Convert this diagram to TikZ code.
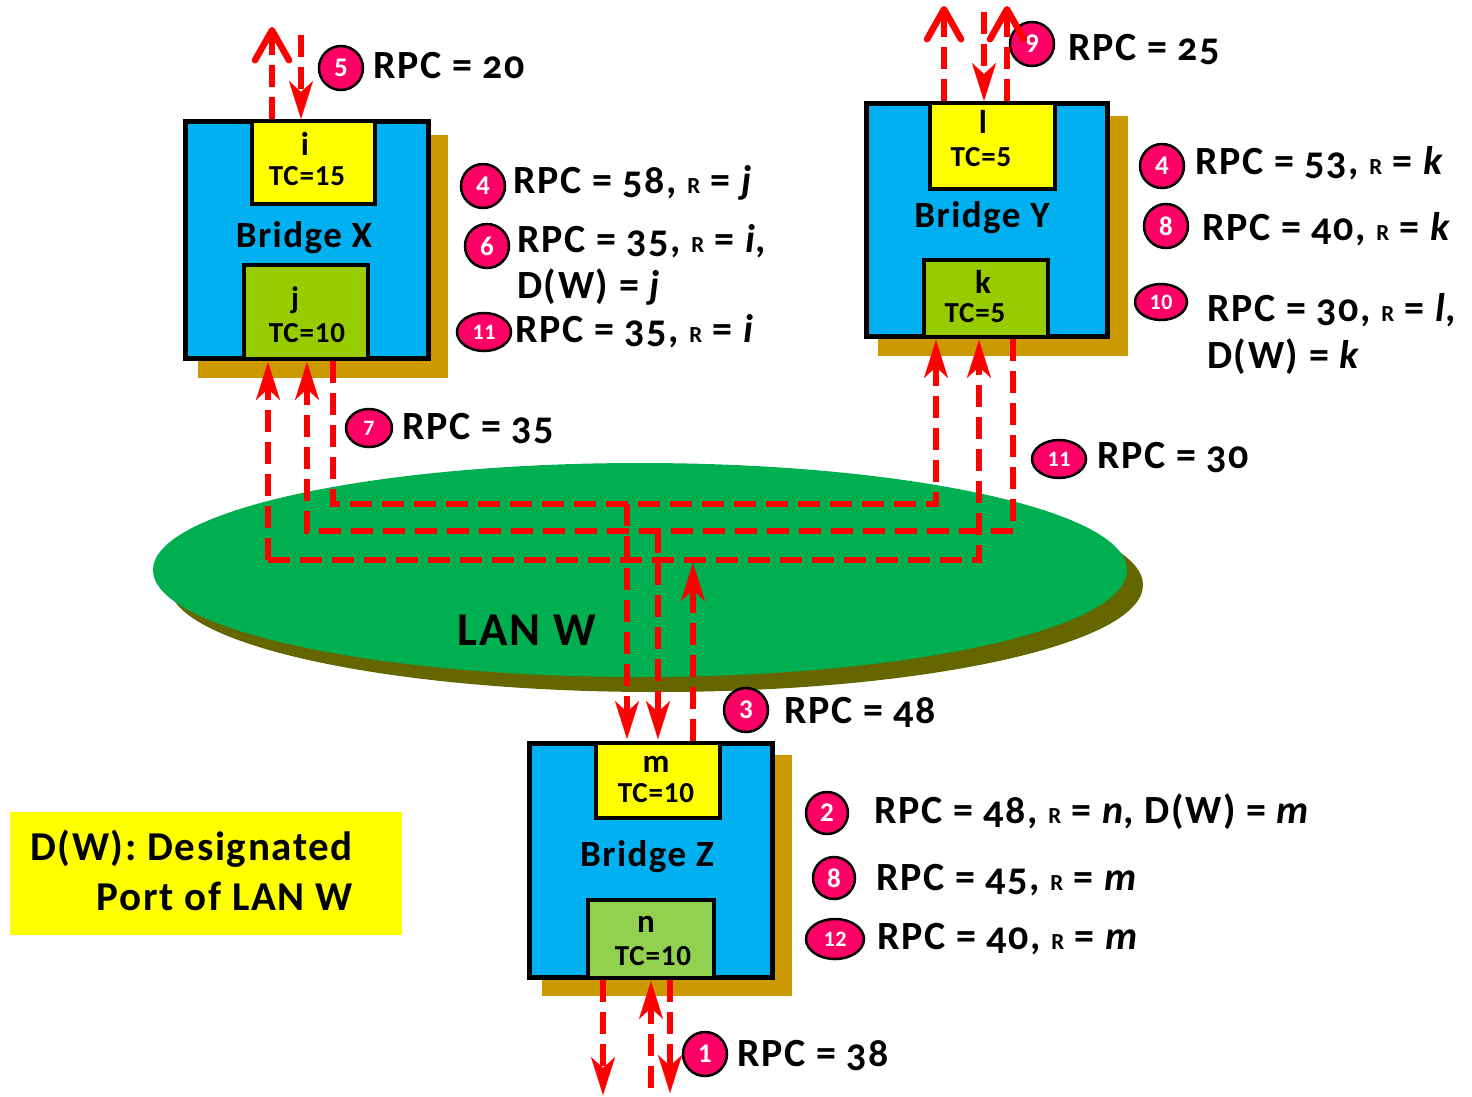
\documentclass[tikz,border=0pt]{standalone}
\usepackage{fontspec}
\setmainfont{Carlito}[Numbers=OldStyle, LetterSpace=4]
\newfontfamily\linfont{Carlito}[LetterSpace=3]
\usetikzlibrary{arrows.meta,shapes.geometric}
\definecolor{bblue}{HTML}{00B0F0}
\definecolor{pyellow}{HTML}{FFFF00}
\definecolor{pgreen}{HTML}{99CC00}
\definecolor{pgreenb}{HTML}{92D050}
\definecolor{shadowc}{HTML}{CC9900}
\definecolor{langreen}{HTML}{00B050}
\definecolor{lanshadow}{HTML}{666600}
\definecolor{badgec}{HTML}{FF0066}
\newcommand\smR{{\fontsize{23}{23}\selectfont R}}
\begin{document}
\begin{tikzpicture}[x=1pt,y=-1pt,
  lbl/.style={anchor=base west, inner sep=0, font=\bfseries\fontsize{40}{44}\selectfont},
  badge/.style={circle, draw=black, line width=2.5pt, fill=badgec, text=white, inner sep=0, minimum size=44pt, font=\linfont\bfseries\fontsize{27}{27}\selectfont},
  ebadge/.style={ellipse, draw=black, line width=2.5pt, fill=badgec, text=white, inner sep=0, minimum width=54pt, minimum height=38pt, font=\linfont\bfseries\fontsize{22}{22}\selectfont},
  shad/.style={rectangle, inner sep=0, fill=shadowc},
  bridgebox/.style={rectangle, inner sep=0, line width=5pt, draw=black, fill=bblue},
  porty/.style={rectangle, inner sep=0, line width=4.5pt, draw=black, fill=pyellow},
  portg/.style={rectangle, inner sep=0, line width=4.5pt, draw=black, fill=pgreen},
  portgb/.style={rectangle, inner sep=0, line width=4.5pt, draw=black, fill=pgreenb},
  plet/.style={anchor=base, inner sep=0, font=\bfseries\fontsize{33}{33}\selectfont},
  ptc/.style={anchor=base, inner sep=0, font=\linfont\bfseries\fontsize{29}{29}\selectfont},
  bname/.style={anchor=base, inner sep=0, font=\bfseries\fontsize{37}{37}\selectfont},
  msg/.style={draw=red, line width=6.5pt, dash pattern=on 22pt off 10pt},
  stl/.style={-{Stealth[length=38pt,width=24pt,inset=11pt,line width=0.1pt]}},
  barb/.style={-{Straight Barb[length=30pt,width=34pt,round]}},
]
\useasboundingbox (0,0) rectangle (1472,1096);

% LAN
\node[ellipse, fill=lanshadow, minimum width=974pt, minimum height=214pt, inner sep=0] (lanS) at (656,585) {};
\node[ellipse, fill=langreen, minimum width=974pt, minimum height=214pt, inner sep=0] (lan) at (640,570) {};
\node[anchor=base, inner sep=0, font=\bfseries\fontsize{47}{47}\selectfont] (lanname) at (527,645) {LAN W};

% Bridge X
\node[shad, minimum width=250pt, minimum height=243pt] (Xs) at (323,256.5) {};
\node[bridgebox, minimum width=243pt, minimum height=237pt] (X) at (307,240) {};
\node[porty, minimum width=123pt, minimum height=83pt] (Xi) at (313.5,162.5) {};
\node[portg, minimum width=124pt, minimum height=94pt] (Xj) at (306,312) {};
\node[plet] (Xil) at (305,155) {i};
\node[ptc] (Xit) at (307,185) {TC=15};
\node[bname] (Xn) at (304,247) {Bridge X};
\node[plet, font=\bfseries\fontsize{31}{31}\selectfont] (Xjl) at (295,308) {j};
\node[ptc] (Xjt) at (307,342) {TC=10};

% Bridge Y
\node[shad, minimum width=250pt, minimum height=240pt] (Ys) at (1003,236) {};
\node[bridgebox, minimum width=241pt, minimum height=233pt] (Y) at (987,220) {};
\node[porty, minimum width=125pt, minimum height=86pt] (Yl) at (992.5,146) {};
\node[portg, minimum width=124pt, minimum height=77pt] (Yk) at (986,298.5) {};
\node[plet] (Yll) at (983,133) {l};
\node[ptc] (Ylt) at (981,166) {TC=5};
\node[bname] (Yn) at (982,227) {Bridge Y};
\node[plet] (Ykl) at (983,293) {k};
\node[ptc] (Ykt) at (975,322) {TC=5};

% Bridge Z
\node[shad, minimum width=250pt, minimum height=241pt] (Zs) at (667,875.5) {};
\node[bridgebox, minimum width=243pt, minimum height=234pt] (Z) at (651,860.5) {};
\node[porty, minimum width=124pt, minimum height=75pt] (Zm) at (658,780.5) {};
\node[portgb, minimum width=126pt, minimum height=78pt] (Zn) at (651,939) {};
\node[plet] (Zml) at (656,772) {m};
\node[ptc] (Zmt) at (656,802) {TC=10};
\node[bname] (Zname) at (647,866) {Bridge Z};
\node[plet] (Znl) at (646,932) {n};
\node[ptc] (Znt) at (653,965) {TC=10};

% Legend
\node[rectangle, fill=pyellow, minimum width=392pt, minimum height=123pt, inner sep=0] (leg) at (206,873.5) {};
\node[anchor=base east, inner sep=0, font=\bfseries\fontsize{41}{41}\selectfont] (leg1) at (353,860) {D(W): Designated};
\node[anchor=base east, inner sep=0, font=\bfseries\fontsize{41}{41}\selectfont] (leg2) at (353,910) {Port of LAN W};

% Badges and labels
\node[badge] (b5) at (341,68) {5};
\node[lbl] (t5) at (373,78) {RPC = 20};
\node[badge] (b4x) at (483,186) {4};
\node[lbl] (t4x) at (513,193) {RPC = 58, \smR{} = \textit{j}};
\node[badge] (b6) at (487,246) {6};
\node[lbl] (t6) at (517,252) {RPC = 35, \smR{} = \textit{i},};
\node[lbl] (t6b) at (517,298) {D(W) = \textit{j}};
\node[ebadge] (b11x) at (484,332) {11};
\node[lbl] (t11x) at (515,342) {RPC = 35, \smR{} = \textit{i}};
\node[ebadge, minimum width=46pt, minimum height=38pt] (b7) at (369,428) {7};
\node[lbl] (t7) at (402,439) {RPC = 35};
\node[badge] (b9) at (1032,44) {9};
\node[lbl] (t9) at (1068,60) {RPC = 25};
\node[badge] (b4y) at (1162,166) {4};
\node[lbl] (t4y) at (1195,174) {RPC = 53, \smR{} = \textit{k}};
\node[badge] (b8y) at (1166,226) {8};
\node[lbl] (t8y) at (1202,240) {RPC = 40, \smR{} = \textit{k}};
\node[ebadge, minimum width=52pt, minimum height=36pt] (b10) at (1161,302) {10};
\node[lbl] (t10) at (1207,321) {RPC = 30, \smR{} = \textit{l},};
\node[lbl] (t10b) at (1207,368) {D(W) = \textit{k}};
\node[ebadge] (b11y) at (1059,459) {11};
\node[lbl] (t11y) at (1097,468) {RPC = 30};
\node[badge] (b3) at (746,710) {3};
\node[lbl] (t3) at (784,723) {RPC = 48};
\node[badge, minimum size=42pt] (b2) at (827,813) {2};
\node[lbl] (t2) at (874,823) {RPC = 48, \smR{} = \textit{n}, D(W) = \textit{m}};
\node[badge, minimum size=42pt] (b8z) at (834,878) {8};
\node[lbl] (t8z) at (876,890) {RPC = 45, \smR{} = \textit{m}};
\node[ebadge, minimum width=58pt, minimum height=40pt] (b12) at (835,939) {12};
\node[lbl] (t12) at (877,949) {RPC = 40, \smR{} = \textit{m}};
\node[badge] (b1) at (705,1054) {1};
\node[lbl] (t1) at (737,1066) {RPC = 38};

% connector end points
\coordinate (xu0) at (272,119); \coordinate (xu1) at (272,27);
\coordinate (xd0) at (301,35);  \coordinate (xd1) at (301,119);
\coordinate (yu0) at (944,101); \coordinate (yu1) at (944,6);
\coordinate (yd0) at (984,12);  \coordinate (yd1) at (984,101);
\coordinate (yv0) at (1007,101); \coordinate (yv1) at (1007,6);
\coordinate (zd0) at (603,980); \coordinate (zd1) at (603,1095);
\coordinate (zu0) at (651,1088); \coordinate (zu1) at (651,981);
\coordinate (ze0) at (670,980); \coordinate (ze1) at (670,1093);

\coordinate (x7a) at (333,361); \coordinate (x7b) at (333,504);
\coordinate (y7b) at (936,504); \coordinate (y7a) at (936,340);
\coordinate (j7) at (627,504);  \coordinate (z7) at (627,739);

\coordinate (y11a) at (1013,339); \coordinate (y11b) at (1013,531);
\coordinate (x11b) at (307,531); \coordinate (x11a) at (307,362);
\coordinate (j11) at (658,531); \coordinate (z11) at (658,739);

\coordinate (z3a) at (693,741); \coordinate (z3b) at (693,563);
\coordinate (x3b) at (268,560); \coordinate (x3a) at (268,362);
\coordinate (y3b) at (979,560); \coordinate (y3a) at (979,340);

% messages
\draw[msg,barb] (xu0) -- (xu1);
\draw[msg,stl] (xd0) -- (xd1);
\draw[msg,barb] (yu0) -- (yu1);
\draw[msg,stl] (yd0) -- (yd1);
\draw[msg,barb] (yv0) -- (yv1);
\draw[msg,stl] (zd0) -- (zd1);
\draw[msg,stl] (zu0) -- (zu1);
\draw[msg,stl] (ze0) -- (ze1);

\draw[msg,stl] (x7a) -- (x7b) -- (y7b) -- (y7a);
\draw[msg,stl] (j7) -- (z7);
\draw[msg,stl] (y11a) -- (y11b) -- (x11b) -- (x11a);
\draw[msg,stl] (j11) -- (z11);
\draw[msg,stl] (z3a) -- (z3b);
\draw[msg,stl] (x3b) -- (x3a);
\draw[msg,stl] (x3b) -- (y3b) -- (y3a);
\end{tikzpicture}
\end{document}
